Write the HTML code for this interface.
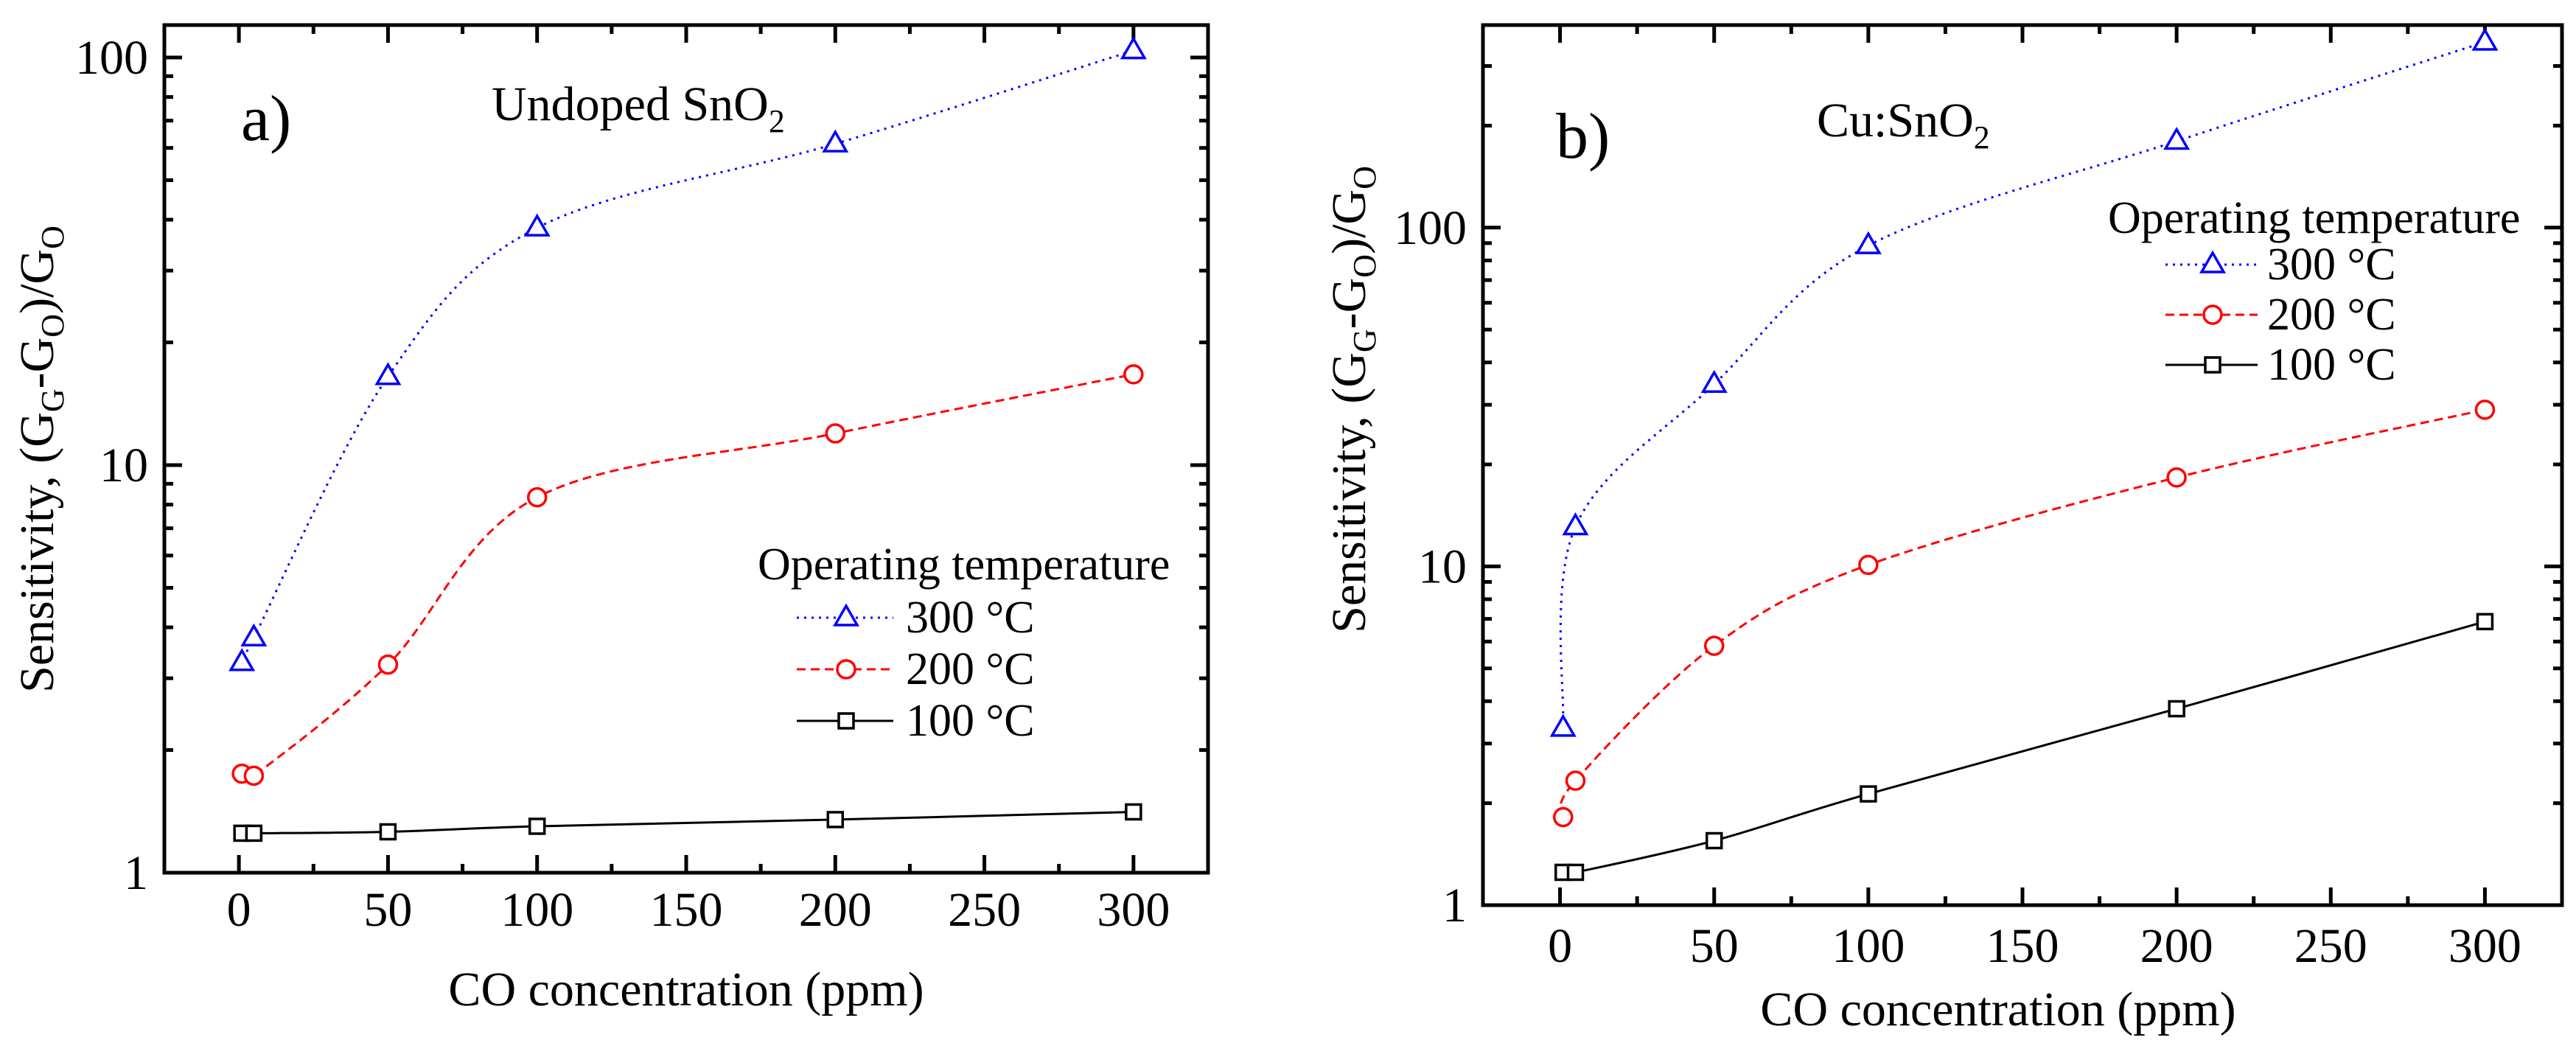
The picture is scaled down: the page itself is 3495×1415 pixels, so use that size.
<!DOCTYPE html>
<html><head><meta charset="utf-8">
<style>
html,body{margin:0;padding:0;background:#fff;}
svg{display:block;font-family:"Liberation Serif",serif;}
</style></head>
<body>
<svg id="chart" width="3495" height="1415" viewBox="0 0 3495 1415" xmlns="http://www.w3.org/2000/svg"></svg>
<script>
const xCats = [1, 5, 50, 100, 200, 300];
const xTickLabels = ["0","50","100","150","200","250","300"];
const a300 = [3.28, 3.77, 16.5, 38.2, 61.4, 104];
const a200 = [1.75, 1.73, 3.24, 8.34, 11.96, 16.7];
const a100 = [1.25, 1.25, 1.26, 1.30, 1.35, 1.41];
const b300 = [3.33, 13.1, 34.5, 88.5, 180, 353];
const b200 = [1.82, 2.33, 5.83, 10.1, 18.3, 29.0];
const b100 = [1.25, 1.25, 1.55, 2.13, 3.80, 6.87];
const aYTicks = ["1","10","100"];
const bYTicks = ["1","10","100"];

const NS="http://www.w3.org/2000/svg";
const svg=document.getElementById('chart');
function mk(tag,attrs,parent){const e=document.createElementNS(NS,tag);for(const k in attrs)e.setAttribute(k,attrs[k]);(parent||svg).appendChild(e);return e;}

function panel(cfg){
  const g=mk('g',{});
  
  
  const L=cfg.L,R=cfg.R,T=cfg.T,B=cfg.B;
  const xs=v=>L+(v+25)/350*(R-L);
  const ys=v=>cfg.y1-(Math.log10(v))*cfg.dec;
  // ticks
  for(let v=-25;v<=325;v+=25){
    if(v<0||v>300)continue;
    const major=v%50===0, len=major?24:12, x=xs(v);
    const t1=mk('line',{x1:x,y1:B,x2:x,y2:B-len,stroke:'#000','stroke-width':5},g);
    
    
    mk('line',{x1:x,y1:T,x2:x,y2:T+len,stroke:'#000','stroke-width':5},g);
    if(major){
      const tx=mk('text',{x:x,y:cfg.xlabY,'font-size':66,'text-anchor':'middle'},g);
      tx.textContent=xTickLabels[v/50];
      
      
    }
  }
  for(let d=0;d<3;d++){
    for(let m=1;m<10;m++){
      const v=m*Math.pow(10,d), y=ys(v);
      if(y<T+2||y>B)continue;
      const len=m===1?24:12;
      mk('line',{x1:L,y1:y,x2:L+len,y2:y,stroke:'#000','stroke-width':5},g);
      mk('line',{x1:R,y1:y,x2:R-len,y2:y,stroke:'#000','stroke-width':5},g);
      if(m===1){
        const ty=mk('text',{x:L-22,y:y+22,'font-size':66,'text-anchor':'end'},g);
        ty.textContent=cfg.yTicks[d];
        
        
      }
    }
  }
  const fr=mk('rect',{x:L,y:T,width:R-L,height:B-T,fill:'none',stroke:'#000','stroke-width':5},g);
  
  
  // series
  const series=[
    {vals:cfg.s300,color:'#0000ff',dash:'3 7',mk:'tri',name:'series-300c'},
    {vals:cfg.s200,color:'#ff0000',dash:'12 7',mk:'circ',name:'series-200c'},
    {vals:cfg.s100,color:'#000',dash:'',mk:'sq',name:'series-100c'}];
  series.forEach(s=>{
    const pts=xCats.map((x,i)=>[xs(x),ys(s.vals[i])]);
    let d='M'+pts[0][0]+','+pts[0][1];
    for(let i=0;i<pts.length-1;i++){
      const p0=pts[Math.max(0,i-1)],p1=pts[i],p2=pts[i+1],p3=pts[Math.min(pts.length-1,i+2)];
      const c1=[p1[0]+(p2[0]-p0[0])/6,p1[1]+(p2[1]-p0[1])/6];
      const c2=[p2[0]-(p3[0]-p1[0])/6,p2[1]-(p3[1]-p1[1])/6];
      d+=` C${c1[0]},${c1[1]} ${c2[0]},${c2[1]} ${p2[0]},${p2[1]}`;
    }
    const ln=mk('path',{d:d,fill:'none',stroke:s.color,'stroke-width':3,'stroke-dasharray':s.dash},g);
    
    
    pts.forEach(p=>{
      const m=marker(s.mk,p[0],p[1],s.color,g);
      
      
    });
  });
  // labels
  const pl=mk('text',{x:cfg.tagX,y:cfg.tagY,'font-size':88},g);
  pl.textContent=cfg.tag;
  
  
  const ti=mk('text',{x:cfg.titleX,y:cfg.titleY,'font-size':66},g);
  ti.innerHTML=cfg.title+'O<tspan font-size="44" dy="16">2</tspan>';
  
  
  const xt=mk('text',{x:cfg.xtX,y:cfg.xtY,'font-size':66,'text-anchor':'middle'},g);
  xt.textContent='CO concentration (ppm)';
  
  
  const yt=mk('text',{x:0,y:0,'font-size':66,'text-anchor':'middle',transform:`translate(${cfg.ytX},${cfg.ytY}) rotate(-90)`},g);
  yt.innerHTML='Sensitivity, (G<tspan font-size="44" dy="14">G</tspan><tspan dy="-14">-G</tspan><tspan font-size="44" dy="14">O</tspan><tspan dy="-14">)/G</tspan><tspan font-size="44" dy="14">O</tspan>';
  
  
  // legend
  const lg=mk('g',{},g);
  
  
  const lh=mk('text',{x:cfg.lgHX,y:cfg.lgHY,'font-size':62},lg);
  lh.textContent='Operating temperature';
  ['300 °C','200 °C','100 °C'].forEach((lab,i)=>{
    const s=series[i], y=cfg.lgRows[i]-20;
    mk('line',{x1:cfg.lgL1,y1:y,x2:cfg.lgL2,y2:y,stroke:s.color,'stroke-width':3,'stroke-dasharray':s.dash},lg);
    marker(s.mk,cfg.lgM,y,s.color,lg);
    const t=mk('text',{x:cfg.lgT,y:cfg.lgRows[i],'font-size':62},lg);
    t.textContent=lab;
    
    
  });
}
function marker(type,x,y,c,parent){
  if(type==='tri') return mk('path',{d:`M${x},${y-16} L${x+15},${y+10} L${x-15},${y+10} Z`,fill:'#fff',stroke:c,'stroke-width':3.5},parent);
  if(type==='circ') return mk('circle',{cx:x,cy:y,r:12,fill:'#fff',stroke:c,'stroke-width':3.5},parent);
  return mk('rect',{x:x-10,y:y-10,width:20,height:20,fill:'#fff',stroke:c,'stroke-width':3.5},parent);
}
panel({name:'panel-a',L:223,R:1639,T:34,B:1184,y1:1184,dec:553,yTicks:aYTicks,xlabY:1256,
  s300:a300,s200:a200,s100:a100,tag:'a)',tagX:327,tagY:190,title:'Undoped Sn',titleX:667,titleY:163,
  xtX:931,xtY:1364,ytX:72,ytY:623,lgHX:1028,lgHY:786,lgRows:[858,928,998],lgL1:1081,lgL2:1212,lgM:1148,lgT:1229});
panel({name:'panel-b',L:2012,R:3476,T:34,B:1228,y1:1228,dec:459.6,yTicks:bYTicks,xlabY:1305,
  s300:b300,s200:b200,s100:b100,tag:'b)',tagX:2111,tagY:214,title:'Cu:Sn',titleX:2465,titleY:185,
  xtX:2711,xtY:1391,ytX:1852,ytY:542,lgHX:2860,lgHY:316,lgRows:[379,447,515],lgL1:2938,lgL2:3063,lgM:3002,lgT:3076});
</script>
</body></html>
